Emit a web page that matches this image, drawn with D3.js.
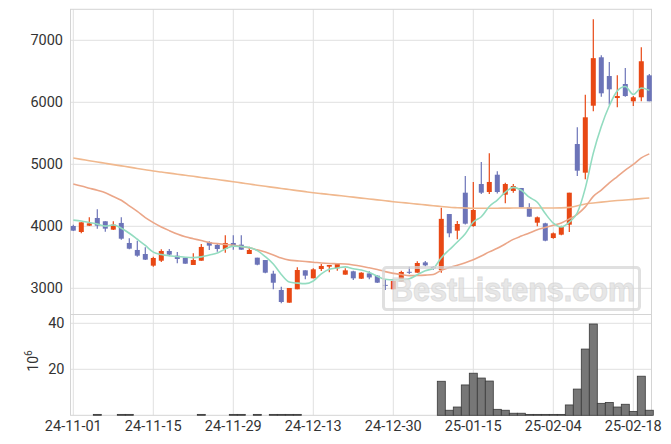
<!DOCTYPE html>
<html><head><meta charset="utf-8">
<script src="https://cdn.jsdelivr.net/npm/d3@7"></script>
<style>html,body{margin:0;padding:0;background:#fff}svg{display:block}</style>
</head><body>
<svg id="chart" width="671" height="444"></svg>
<script>
const dates = ["24-11-01","24-11-04","24-11-05","24-11-06","24-11-07","24-11-08","24-11-11","24-11-12","24-11-13","24-11-14","24-11-15",
"24-11-18","24-11-19","24-11-20","24-11-21","24-11-22","24-11-25","24-11-26","24-11-27","24-11-28","24-11-29",
"24-12-02","24-12-03","24-12-04","24-12-05","24-12-06","24-12-09","24-12-10","24-12-11","24-12-12","24-12-13",
"24-12-16","24-12-17","24-12-18","24-12-19","24-12-20","24-12-23","24-12-24","24-12-26","24-12-27","24-12-30",
"25-01-02","25-01-03","25-01-06","25-01-07","25-01-08","25-01-09","25-01-10","25-01-13","25-01-14","25-01-15",
"25-01-16","25-01-17","25-01-20","25-01-21","25-01-22","25-01-23","25-01-24","25-01-31","25-02-03","25-02-04",
"25-02-05","25-02-06","25-02-07","25-02-10","25-02-11","25-02-12","25-02-13","25-02-14","25-02-17","25-02-18",
"25-02-19","25-02-20"];
const openP = [4005,3908,4010,4134,4081,3946,4054,3731,3618,3553,3365,3445,3602,3526,3494,3376,3445,3747,3699,3634,3731,
3704,3553,3494,3456,3236,2973,2768,2984,3290,3161,3311,3349,3322,3220,3274,3155,3240,3204,3055,2984,
3113,3266,3252,3418,3345,3295,4198,3929,4542,4005,4682,4553,4832,4510,4570,4618,4306,4058,4048,3811,
3865,4026,5327,4865,5945,6726,6424,6069,6295,6016,6081,6435];
const highP = [4026,4064,4145,4274,4081,4081,4145,3806,3768,3661,3510,3629,3634,3586,3494,3565,3715,3758,3726,3854,3854,
3854,3672,3494,3456,3284,3026,3005,3339,3290,3322,3392,3376,3400,3322,3284,3260,3274,3210,3134,3125,
3285,3349,3435,3440,3360,4300,4198,4085,4811,4715,5037,5177,4887,4704,4682,4618,4371,4160,4058,3900,
4010,4542,5597,6123,7339,6758,6650,6435,6553,6101,6887,6456];
const lowP = [3925,3887,4005,3962,3913,3940,3784,3628,3510,3456,3349,3424,3516,3403,3397,3376,3445,3618,3591,3575,3623,
3623,3553,3370,3241,2984,2758,2768,2984,3145,3161,3279,3258,3284,3220,3134,3150,3145,3085,2974,2984,
3113,3231,3252,3350,3300,3252,3822,3790,4030,3993,4520,4521,4530,4371,4540,4306,4155,4000,3760,3800,
3855,3908,4811,4758,5855,6090,5961,5919,6090,5940,6016,6016];
const closeP = [3930,4064,4048,4010,3962,4027,3800,3639,3526,3462,3489,3602,3543,3473,3397,3457,3667,3688,3634,3731,3682,
3623,3618,3381,3252,3090,2779,3005,3295,3204,3306,3360,3376,3392,3290,3161,3252,3175,3091,3045,3118,
3263,3254,3408,3370,3318,4120,3887,4037,4042,4263,4542,4715,4553,4682,4650,4306,4155,4145,3768,3887,
3994,4542,4897,5758,6712,6145,6209,6101,6101,6081,6662,6016];
// volume in millions
const volume = [0,0,0,0.4,0,0,0.4,0.4,0,0,0,0,0,0,0,0,0.4,0,0,0,0.4,
0.4,0,0.4,0,0.4,0.4,0.4,0.4,0,0,0,0,0,0,0,0,0,0,0,0,
0,0,0,0,0,14.8,2.2,3.6,13.2,18.3,16.2,14.9,2.6,2.2,0.9,0.9,0.4,0.4,0.4,0.4,
0.4,4.5,11.4,28.8,39.7,5.2,5.6,3.6,4.8,1.7,17.0,2.2];
const ma5 = [4100,4085,4060,4035,4003,4022,3969,3888,3791,3691,3583,3544,3524,3514,3501,3494,3507,3536,3569,3635,3680,
3672,3658,3607,3511,3393,3224,3101,3084,3075,3118,3234,3308,3328,3345,3316,3294,3254,3194,3145,3136,
3138,3154,3218,3283,3323,3494,3621,3746,3881,4070,4154,4320,4423,4551,4628,4581,4469,4388,4205,4052,
3990,4067,4218,4616,5181,5611,5944,6185,6254,6127,6231,6192];
const ma20 = [4682,4650,4615,4580,4540,4480,4420,4330,4240,4140,4060,3990,3930,3875,3830,3800,3770,3740,3720,3707,3695,
3673,3652,3620,3585,3538,3487,3455,3443,3431,3421,3409,3401,3397,3392,3377,3356,3330,3303,3269,3241,
3223,3204,3206,3212,3223,3290,3334,3371,3413,3461,3520,3587,3645,3715,3789,3842,3891,3944,3980,4018,
4055,4119,4194,4313,4483,4584,4700,4803,4906,4997,5103,5168];
const ma120 = [5101,5080,5058,5037,5016,4995,4975,4955,4933,4912,4892,4875,4858,4840,4823,4806,4788,4771,4754,4737,4719,
4700,4682,4663,4645,4628,4610,4593,4576,4559,4542,4527,4513,4499,4484,4470,4455,4441,4426,4412,4397,
4384,4371,4358,4345,4332,4319,4306,4300,4295,4290,4290,4291,4292,4293,4294,4295,4295,4295,4295,4295,
4297,4305,4330,4360,4375,4390,4403,4415,4425,4435,4446,4457];
const priceTicks = [3000,4000,5000,6000,7000];
const volTicks = [20,40];
const xTickEvery = 10;

const UP = "#e84814", DOWN = "#6c74b8";
const FONT = "Roboto, 'Noto Sans', sans-serif";
const svg = d3.select("#chart");

const L = 70.5, R = 651.5;
const pTop = 9.3, pBot = 314.5;
const vTop = 314.8, vBot = 415.3;

const x = d3.scaleBand().domain(d3.range(dates.length)).range([69.3, 69.3 + 8 * dates.length]).padding(0);
const cx = i => x(i) + x.bandwidth() / 2;
const y = d3.scaleLinear().domain([2580.6, 7500]).range([314.3, pTop]);
const yv = d3.scaleLinear().domain([0, 43.7]).range([vBot, vTop]);

const xTickIdx = d3.range(0, dates.length, xTickEvery);

// grid
const grid = svg.append("g").attr("stroke", "#e0e0e0").attr("stroke-width", 1).attr("fill", "none");
priceTicks.forEach(t => grid.append("line").attr("x1", L).attr("x2", R).attr("y1", y(t)).attr("y2", y(t)));
volTicks.forEach(t => grid.append("line").attr("x1", L).attr("x2", R).attr("y1", yv(t)).attr("y2", yv(t)));
xTickIdx.forEach(i => {
  grid.append("line").attr("x1", cx(i)).attr("x2", cx(i)).attr("y1", pTop).attr("y2", vBot);
});
// frame (shared separator between panels)
const frame = svg.append("g").attr("stroke", "#d4d4d4").attr("fill", "none").attr("stroke-width", 1);
frame.append("rect").attr("x", L).attr("y", pTop).attr("width", R - L).attr("height", vBot - pTop);
frame.append("line").attr("x1", L).attr("x2", R).attr("y1", pBot).attr("y2", pBot);

// axes
const ya = svg.append("g").attr("transform", `translate(${L},0)`)
  .call(d3.axisLeft(y).tickValues(priceTicks).tickSize(0).tickPadding(7.5).tickFormat(d3.format("d")));
const yva = svg.append("g").attr("transform", `translate(${L},0)`)
  .call(d3.axisLeft(yv).tickValues(volTicks).tickSize(0).tickPadding(6).tickFormat(d3.format("d")));
const xa = svg.append("g").attr("transform", `translate(0,${vBot})`)
  .call(d3.axisBottom(x).tickValues(xTickIdx).tickSize(0).tickPadding(5).tickFormat(i => dates[i]));
[ya, yva, xa].forEach(g => {
  g.select(".domain").remove();
  g.selectAll("text").attr("font-family", FONT).attr("font-size", 14.5).attr("fill", "#333");
});
xa.selectAll("text").attr("dy", "0.71em");

// 10^6 label
const ul = svg.append("text").attr("transform", "translate(38,361) rotate(-90)")
  .attr("text-anchor", "middle").attr("font-family", FONT).attr("font-size", 14).attr("fill", "#333");
ul.append("tspan").text("10");
ul.append("tspan").attr("font-size", 10).attr("dy", -6).text("6");

// volume bars
svg.append("g").selectAll("rect").data(volume.map((v, i) => ({v, i})).filter(d => d.v > 0)).join("rect")
  .attr("x", d => x(d.i)).attr("width", x.bandwidth())
  .attr("y", d => yv(d.v)).attr("height", d => vBot - yv(d.v))
  .attr("fill", "#777").attr("stroke", "#3a3a3a").attr("stroke-width", 0.8);

// candles
const cd = dates.map((d, i) => ({i, o: openP[i], h: highP[i], l: lowP[i], c: closeP[i]}));
const cg = svg.append("g");
cg.selectAll("line").data(cd).join("line")
  .attr("x1", d => cx(d.i)).attr("x2", d => cx(d.i))
  .attr("y1", d => y(d.h)).attr("y2", d => y(d.l))
  .attr("stroke", d => d.c >= d.o ? UP : DOWN).attr("stroke-width", 1.2);
cg.selectAll("rect").data(cd).join("rect")
  .attr("x", d => cx(d.i) - 2.5).attr("width", 5)
  .attr("y", d => y(Math.max(d.o, d.c)))
  .attr("height", d => Math.max(1, Math.abs(y(d.o) - y(d.c))))
  .attr("fill", d => d.c >= d.o ? UP : DOWN);

// MA lines
const line = arr => d3.line().x((v, i) => cx(i)).y(v => y(v)).curve(d3.curveMonotoneX)(arr);
svg.append("path").attr("d", line(ma120)).attr("fill", "none").attr("stroke", "#f0b88e").attr("stroke-width", 1.6);
svg.append("path").attr("d", line(ma20)).attr("fill", "none").attr("stroke", "#eba688").attr("stroke-width", 1.6);
svg.append("path").attr("d", line(ma5)).attr("fill", "none").attr("stroke", "#93dcc0").attr("stroke-width", 1.6);

// watermark
const wm = svg.append("g").attr("opacity", 0.75);
wm.append("rect").attr("x", 383.5).attr("y", 267.5).attr("width", 256).attr("height", 42).attr("rx", 3)
  .attr("fill", "none").attr("stroke", "#d6d6d6").attr("stroke-width", 3);
wm.append("text").attr("x", 391).attr("y", 301).attr("font-family", "'Liberation Sans', Arial, sans-serif")
  .attr("font-weight", "bold").attr("font-size", 33).attr("textLength", 244).attr("lengthAdjust", "spacingAndGlyphs")
  .attr("fill", "#e0e0e0").attr("stroke", "#d2d2d2").attr("stroke-width", 1).text("BestListens.com");
</script>
</body></html>
